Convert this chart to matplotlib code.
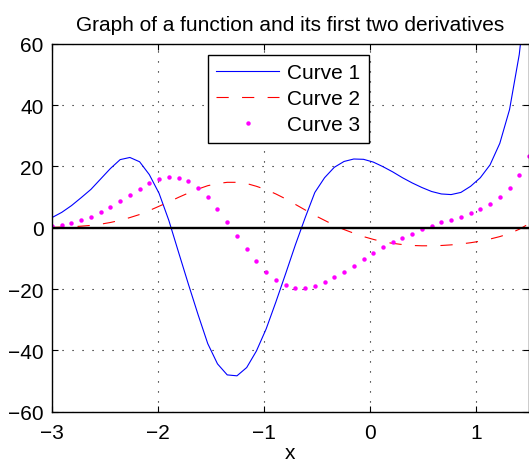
import numpy as np
import matplotlib
matplotlib.use('Agg')
from matplotlib import pyplot as plt

plt.rcParams['font.family'] = ['Liberation Sans', 'DejaVu Sans']

# 50 evenly spaced samples on [-3, 1.5]
x = np.linspace(-3, 1.5, 50)

curve1 = [3.3, 5.0, 7.2, 9.8, 12.5, 15.9, 19.3, 22.2, 22.9, 21.5,
          17.3, 11.2, 2.4, -8.0, -18.3, -28.3, -37.8, -44.4, -48.0, -48.3,
          -45.6, -40.2, -33.0, -24.2, -15.0, -5.6, 3.2, 11.5, 16.3, 19.7,
          21.6, 22.4, 22.3, 21.4, 19.9, 18.2, 16.3, 14.6, 13.1, 11.8,
          11.0, 10.8, 11.5, 13.5, 16.3, 20.5, 27.5, 38.5, 56.5, 85.0]

curve2 = [0.1, 0.2, 0.3, 0.5, 0.75, 1.15, 1.7, 2.4, 3.3, 4.3,
          5.6, 7.0, 8.4, 9.9, 11.3, 12.6, 13.7, 14.4, 14.8, 14.8,
          14.4, 13.5, 12.4, 11.0, 9.4, 7.6, 5.8, 4.0, 2.4, 0.8,
          -0.6, -1.8, -2.9, -3.8, -4.6, -5.1, -5.5, -5.8, -5.9, -5.9,
          -5.8, -5.6, -5.3, -4.9, -4.4, -3.7, -2.9, -1.9, -0.5, 1.3]

curve3 = [0.65, 1.0, 1.6, 2.4, 3.5, 5.0, 6.6, 8.6, 10.8, 12.7,
          14.6, 15.9, 16.4, 16.3, 15.1, 13.0, 9.9, 6.1, 1.9, -2.6,
          -7.0, -11.0, -14.4, -17.0, -18.7, -19.5, -19.6, -18.9, -17.8, -16.2,
          -14.4, -12.4, -10.3, -8.4, -6.4, -4.8, -3.2, -1.9, -0.5, 0.6,
          1.7, 2.5, 3.6, 4.7, 6.0, 7.7, 9.9, 13.0, 17.3, 23.4]

labels = ['Curve 1', 'Curve 2', 'Curve 3']
xticks = [-3, -2, -1, 0, 1]
yticks = [-60, -40, -20, 0, 20, 40, 60]

fig = plt.figure(figsize=(5.29, 4.64), dpi=100)
ax = fig.add_axes([52 / 529, 1 - 412.7 / 464, 477 / 529, (412.7 - 44.7) / 464])

ax.plot(x, curve1, '-', color='#0000ff', lw=0.8, label=labels[0])
ax.plot(x, curve2, color='#ff0000', lw=0.8, linestyle=(0, (11, 12)), label=labels[1])
ax.plot(x, curve3, 'o', color='#ff00ff', ms=3.2, mec='none', label=labels[2])
ax.axhline(0, color='black', lw=1.7)

ax.set_xlim(-3, 1.5)
ax.set_ylim(-60, 60)
ax.set_xticks(xticks)
ax.set_yticks(yticks)
ax.grid(True, color='black', linestyle=(0, (1, 8)), lw=0.8)
ax.tick_params(direction='in', length=4, width=0.8, labelsize=15,
               top=True, right=True)
ax.tick_params(axis='x', pad=8)
ax.tick_params(axis='y', pad=6)
for s in ax.spines.values():
    s.set_linewidth(1.0)

ax.set_title('Graph of a function and its first two derivatives', fontsize=15, pad=10)
ax.set_xlabel('x', fontsize=15, labelpad=1)

leg = ax.legend(loc='upper left', bbox_to_anchor=(208 / 529, 1 - 55.7 / 464),
                bbox_transform=fig.transFigure, borderaxespad=0,
                fontsize=15, fancybox=False, framealpha=1, edgecolor='black',
                handlelength=3.0, handletextpad=0.4, labelspacing=0.34,
                borderpad=0.4, numpoints=1)
leg.get_frame().set_linewidth(1.0)

fig.savefig('out.png', dpi=100)
